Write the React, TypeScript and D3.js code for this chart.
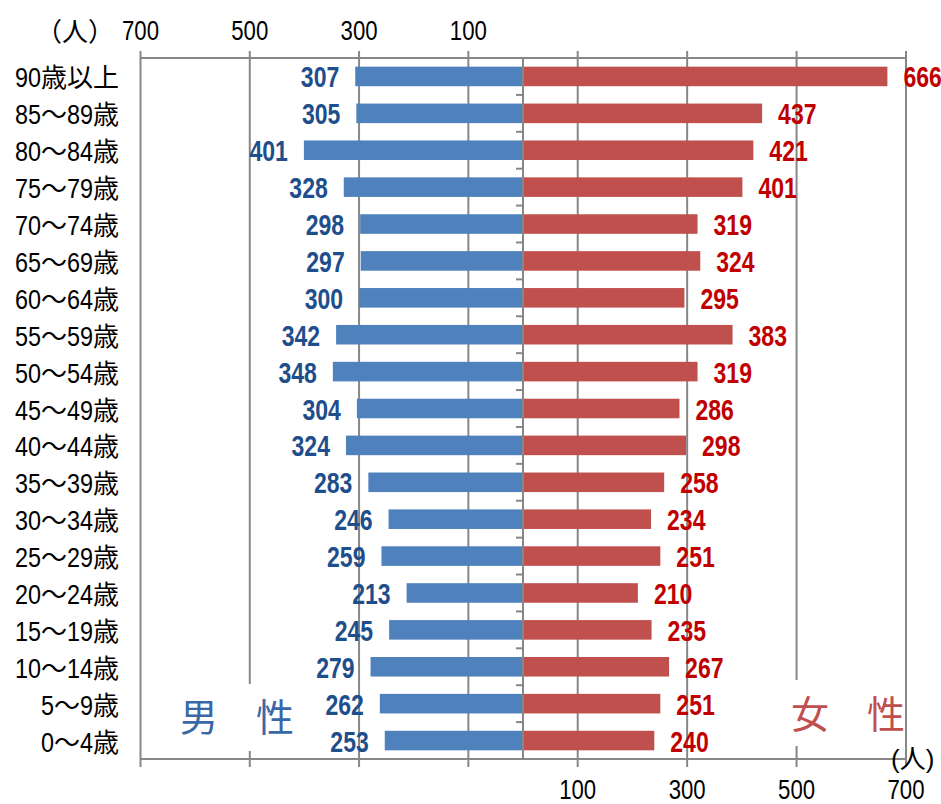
import React from "react";
import * as d3 from "d3";

const categories = [
  "90歳以上", "85〜89歳", "80〜84歳", "75〜79歳", "70〜74歳", "65〜69歳",
  "60〜64歳", "55〜59歳", "50〜54歳", "45〜49歳", "40〜44歳", "35〜39歳",
  "30〜34歳", "25〜29歳", "20〜24歳", "15〜19歳", "10〜14歳", "5〜9歳", "0〜4歳",
];
const male = [307, 305, 401, 328, 298, 297, 300, 342, 348, 304, 324, 283, 246, 259, 213, 245, 279, 262, 253];
const female = [666, 437, 421, 401, 319, 324, 295, 383, 319, 286, 298, 258, 234, 251, 210, 235, 267, 251, 240];
const tickValues = [700, 500, 300, 100];

const W = 941;
const H = 804;
const CX = 523;
const TOP = 58;
const BOTTOM = 759;
const LEFT = 140.5;
const RIGHT = 906;

const LATIN = "'Liberation Sans', Arial, sans-serif";
const CJK = "'Noto Sans CJK JP', sans-serif";
const GRID = "#878787";

// Narrow digits: each digit gets a fixed advance via textLength.
const DIGIT_W = 13;
const KANJI_W = 26;

type Run = { digits: boolean; text: string };
function splitRuns(s: string): Run[] {
  const runs: Run[] = [];
  for (const ch of s) {
    const d = /[0-9]/.test(ch);
    const last = runs[runs.length - 1];
    if (last && last.digits === d) last.text += ch;
    else runs.push({ digits: d, text: ch });
  }
  return runs;
}

function MixedLabel({ text, right, baseline }: { text: string; right: number; baseline: number }) {
  const runs = splitRuns(text);
  const widths = runs.map((r) => (r.digits ? r.text.length * DIGIT_W : [...r.text].length * KANJI_W));
  const total = d3.sum(widths);
  let x = right - total;
  return (
    <g fill="#000">
      {runs.map((r, i) => {
        const x0 = x;
        x += widths[i];
        return r.digits ? (
          <text key={i} x={x0} y={baseline} fontFamily={LATIN} fontSize={28} textLength={widths[i]} lengthAdjust="spacingAndGlyphs">
            {r.text}
          </text>
        ) : (
          <text key={i} x={x0} y={baseline} fontFamily={CJK} fontSize={KANJI_W}>
            {r.text}
          </text>
        );
      })}
    </g>
  );
}

export default function App() {
  const xm = d3.scaleLinear().domain([0, 700]).range([CX, LEFT]);
  const xf = d3.scaleLinear().domain([0, 700]).range([CX, RIGHT]);
  const y = d3.scaleBand<string>().domain(categories).range([TOP, BOTTOM]).paddingInner(0.47).paddingOuter(0.235);
  const step = y.step();
  const bw = y.bandwidth();
  const boundaries = d3.range(1, categories.length).map((i) => TOP + i * step);
  const mid = (c: string) => (y(c) as number) + bw / 2;

  return (
    <svg width={W} height={H} style={{ position: "absolute", left: 0, top: 0, background: "#fff" }}>
      {/* gridlines with outer ticks */}
      {tickValues.map((v) => (
        <g key={"g" + v}>
          <line x1={xm(v)} x2={xm(v)} y1={TOP - 7} y2={BOTTOM + 8} stroke={GRID} strokeWidth={2} />
          <line x1={xf(v)} x2={xf(v)} y1={TOP - 7} y2={BOTTOM + 8} stroke={GRID} strokeWidth={2} />
        </g>
      ))}
      <line x1={LEFT} x2={RIGHT} y1={TOP} y2={TOP} stroke={GRID} strokeWidth={2} />
      <line x1={LEFT} x2={RIGHT} y1={BOTTOM} y2={BOTTOM} stroke={GRID} strokeWidth={2} />

      {/* bars */}
      {categories.map((c, i) => (
        <g key={c}>
          <rect x={xm(male[i])} y={y(c)} width={CX - xm(male[i])} height={bw} fill="#4f81bd" />
          <rect x={CX} y={y(c)} width={xf(female[i]) - CX} height={bw} fill="#c0504d" />
        </g>
      ))}

      {/* center category axis */}
      <line x1={CX} x2={CX} y1={TOP} y2={BOTTOM} stroke={GRID} strokeWidth={2} />
      {boundaries.map((b) => (
        <line key={b} x1={CX - 7} x2={CX} y1={b} y2={b} stroke={GRID} strokeWidth={2} />
      ))}

      {/* value labels */}
      {categories.map((c, i) => {
        const base = mid(c) + 11;
        const mw = String(male[i]).length * 12.8;
        const fw = String(female[i]).length * 12.8;
        return (
          <g key={"l" + c} fontFamily={LATIN} fontWeight="bold" fontSize={29}>
            <text x={xm(male[i]) - 16 - mw} y={base} fill="#1f4e8c" textLength={mw} lengthAdjust="spacingAndGlyphs">
              {male[i]}
            </text>
            <text x={xf(female[i]) + 16} y={base} fill="#c00000" textLength={fw} lengthAdjust="spacingAndGlyphs">
              {female[i]}
            </text>
          </g>
        );
      })}

      {/* category labels */}
      {categories.map((c) => (
        <MixedLabel key={"c" + c} text={c} right={119} baseline={mid(c) + 11} />
      ))}

      {/* axis labels */}
      {tickValues.map((v) => (
        <g key={"t" + v} fontFamily={LATIN} fontSize={28} fill="#000">
          <text x={xm(v) - 18.5} y={40} textLength={37} lengthAdjust="spacingAndGlyphs">{v}</text>
          <text x={xf(v) - 18.5} y={799} textLength={37} lengthAdjust="spacingAndGlyphs">{v}</text>
        </g>
      ))}
      <text x={36} y={41} fontFamily={CJK} fontSize={26} fill="#000">（人）</text>
      <text x={891} y={768} fontFamily={`${LATIN}, ${CJK}`} fontSize={26} fill="#000">(人)</text>

      {/* series names */}
      <rect x={176} y={684} width={124} height={67} fill="#fff" />
      <text x={180} y={731} fontFamily={CJK} fontSize={38} fill="#3a68a6">男　性</text>
      <rect x={788} y={680} width={116} height={66} fill="#fff" />
      <text x={791} y={728} fontFamily={CJK} fontSize={38} fill="#c0504d">女　性</text>
    </svg>
  );
}
